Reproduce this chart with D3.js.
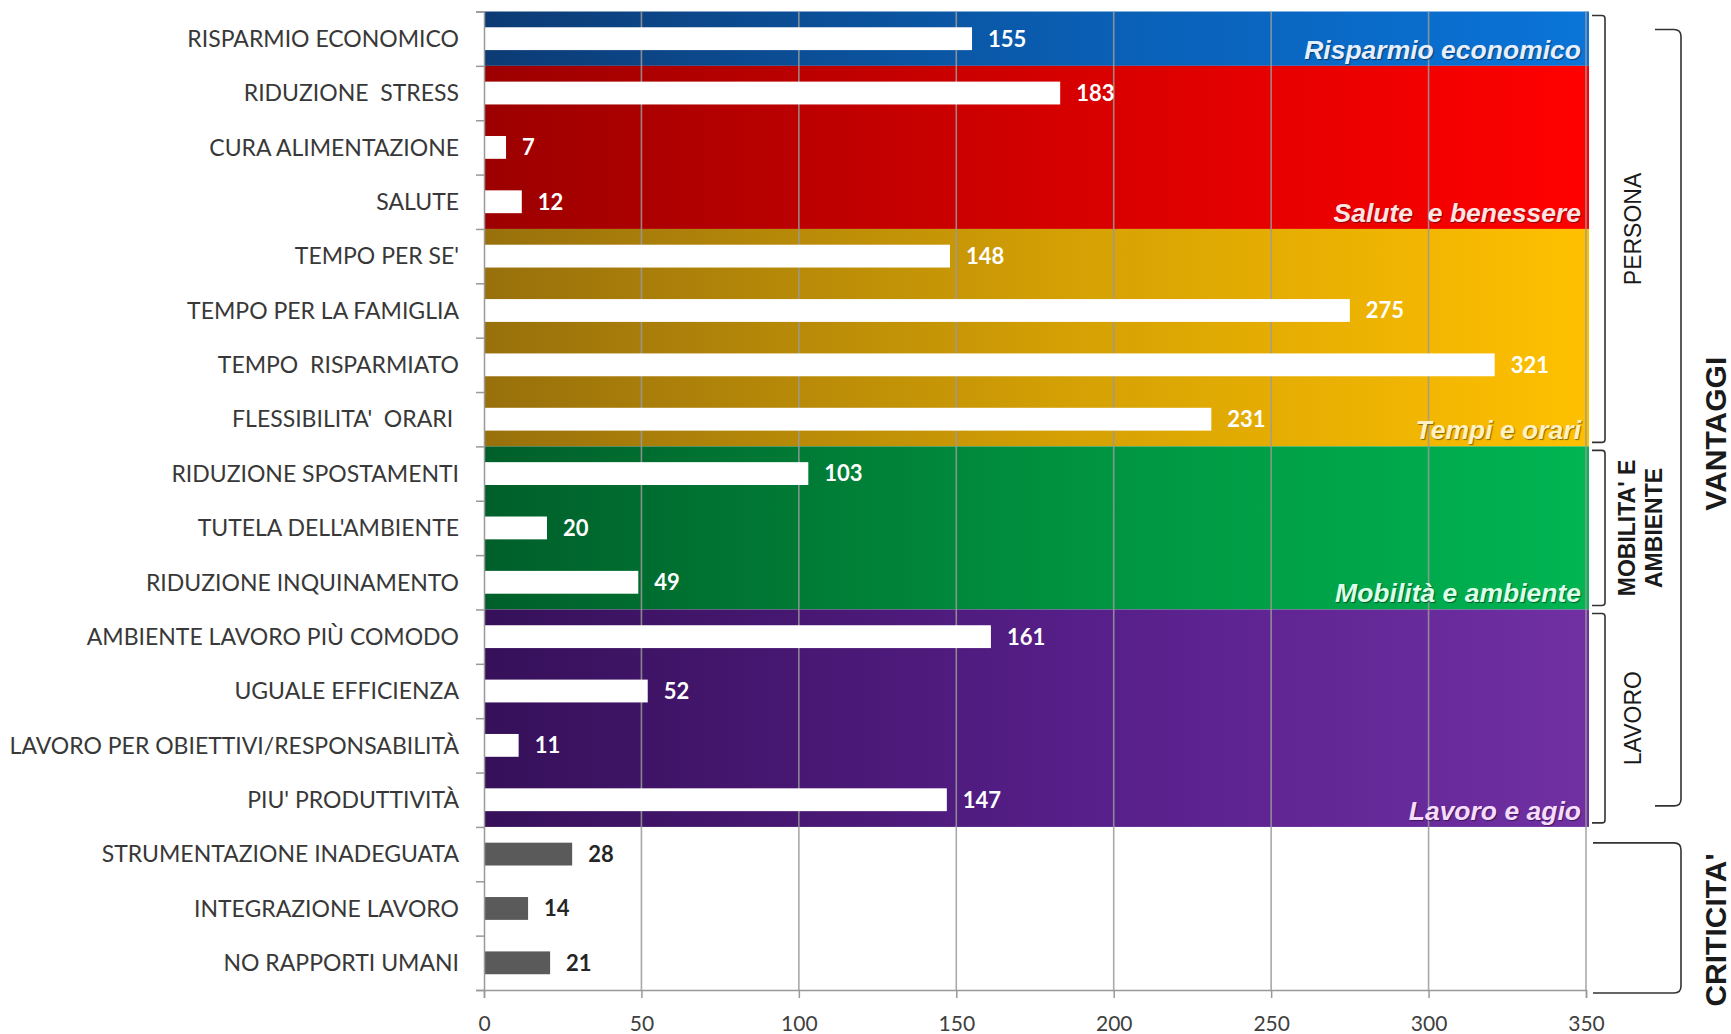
<!DOCTYPE html>
<html>
<head>
<meta charset="utf-8">
<script src="https://cdn.jsdelivr.net/npm/d3@7"></script>
<style>
  body { margin: 0; background: #fff; }
  svg { display: block; }
  text { white-space: pre; }
  .cat-label { font-family: Lato, "Open Sans", sans-serif; font-size: 23px; fill: #383838; }
  .val-label { font-family: Lato, "Open Sans", sans-serif; font-size: 22px; font-weight: bold; }
  .band-label { font-family: "Liberation Sans", Arial, sans-serif; font-size: 26.5px; font-weight: bold; font-style: italic;
                text-shadow: 1px 1px 1px rgba(0,0,0,0.45); }
  .side-label { font-family: "Liberation Sans", Arial, sans-serif; fill: #1a1a1a; }
  .x.axis text { font-family: Lato, "Open Sans", sans-serif; font-size: 21px; fill: #404040; }
</style>
</head>
<body>
<svg id="chart"></svg>
<script>
// categories, top to bottom
var categories = [
  "RISPARMIO ECONOMICO",
  "RIDUZIONE  STRESS",
  "CURA ALIMENTAZIONE",
  "SALUTE",
  "TEMPO PER SE'",
  "TEMPO PER LA FAMIGLIA",
  "TEMPO  RISPARMIATO",
  "FLESSIBILITA'  ORARI ",
  "RIDUZIONE SPOSTAMENTI",
  "TUTELA DELL'AMBIENTE",
  "RIDUZIONE INQUINAMENTO",
  "AMBIENTE LAVORO PIÙ COMODO",
  "UGUALE EFFICIENZA",
  "LAVORO PER OBIETTIVI/RESPONSABILITÀ",
  "PIU' PRODUTTIVITÀ",
  "STRUMENTAZIONE INADEGUATA",
  "INTEGRAZIONE LAVORO",
  "NO RAPPORTI UMANI"
];
var values = [155, 183, 7, 12, 148, 275, 321, 231, 103, 20, 49, 161, 52, 11, 147, 28, 14, 21];
var xTicks = [0, 50, 100, 150, 200, 250, 300, 350];

// coloured groups (first and last row index)
var groupNames = ["Risparmio economico", "Salute  e benessere", "Tempi e orari", "Mobilità e ambiente", "Lavoro e agio"];
var groupFirst = [0, 1, 4, 8, 11];
var groupLast = [0, 3, 7, 10, 14];

// brackets on the right
var sideNames = [["PERSONA"], ["MOBILITA' E", "AMBIENTE"], ["LAVORO"]];
var sideFirst = [0, 8, 11];
var sideLast = [7, 10, 14];
var outerNames = ["VANTAGGI", "CRITICITA'"];
var outerFirst = [0, 15];
var outerLast = [14, 17];

// colours for each group: dark on the left, bright on the right
var groupColors = [
  ["#0c3b74", "#0a5fb4", "#0a74d8"],
  ["#9c0000", "#d80000", "#ff0000"],
  ["#98700c", "#d6a204", "#ffc000"],
  ["#005f2a", "#009440", "#00b552"],
  ["#361059", "#571f8a", "#7030a2"]
];
var groupTextColors = ["#e6efff", "#ffe4e4", "#fff1c2", "#dcffe8", "#f6dcff"];

var width = 1731;
var height = 1034;
var plotTop = 11.5;
var plotBottom = 990;

var svg = d3.select("#chart").attr("width", width).attr("height", height);

var x = d3.scaleLinear().domain([0, 350]).range([484, 1586]);
var y = d3.scaleBand()
  .domain(categories)
  .range([plotTop, plotBottom])
  .paddingInner(0.58)
  .paddingOuter(0.29);

// row index -> pixel position of the row boundary
var row = d3.scaleLinear().domain([0, categories.length]).range([plotTop, plotBottom]);

// gradients
var defs = svg.append("defs");
groupColors.forEach(function (c, i) {
  var grad = defs.append("linearGradient")
    .attr("id", "grad" + i)
    .attr("gradientUnits", "userSpaceOnUse")
    .attr("x1", x(0)).attr("x2", x(350))
    .attr("y1", 0).attr("y2", 0);
  grad.append("stop").attr("offset", "0%").attr("stop-color", c[0]);
  grad.append("stop").attr("offset", "55%").attr("stop-color", c[1]);
  grad.append("stop").attr("offset", "100%").attr("stop-color", c[2]);
});

// coloured background bands
svg.append("g")
  .selectAll("rect")
  .data(groupNames)
  .enter()
  .append("rect")
  .attr("x", x(0))
  .attr("y", (d, i) => row(groupFirst[i]))
  .attr("width", x(350) - x(0) + 3)
  .attr("height", (d, i) => row(groupLast[i] + 1) - row(groupFirst[i]))
  .attr("fill", (d, i) => "url(#grad" + i + ")");

// vertical gridlines
svg.append("g")
  .selectAll("line")
  .data(xTicks.slice(1))
  .enter()
  .append("line")
  .attr("x1", (d) => x(d))
  .attr("x2", (d) => x(d))
  .attr("y1", plotTop)
  .attr("y2", plotBottom)
  .attr("stroke", "#9a9a9a")
  .attr("stroke-opacity", 0.85)
  .attr("stroke-width", 1.6);

// bars
svg.append("g")
  .selectAll("rect")
  .data(values)
  .enter()
  .append("rect")
  .attr("x", x(0))
  .attr("y", (d, i) => y(categories[i]))
  .attr("width", (d) => x(d) - x(0))
  .attr("height", y.bandwidth())
  .attr("fill", (d, i) => (i < 15 ? "#ffffff" : "#5a5a5a"));

// value labels
svg.append("g")
  .selectAll("text")
  .data(values)
  .enter()
  .append("text")
  .attr("class", "val-label")
  .attr("x", (d) => x(d) + 16)
  .attr("y", (d, i) => y(categories[i]) + y.bandwidth() / 2)
  .attr("dy", "0.36em")
  .attr("fill", (d, i) => (i < 15 ? "#ffffff" : "#262626"))
  .text((d) => d);

// group names inside the bands
svg.append("g")
  .selectAll("text")
  .data(groupNames)
  .enter()
  .append("text")
  .attr("class", "band-label")
  .attr("x", x(350) - 5)
  .attr("y", (d, i) => row(groupLast[i] + 1) - 7)
  .attr("text-anchor", "end")
  .attr("fill", (d, i) => groupTextColors[i])
  .text((d) => d);

// left axis: line + small ticks at row boundaries
var leftAxis = d3.axisLeft(row)
  .tickValues(d3.range(categories.length + 1))
  .tickSize(8)
  .tickFormat("");
svg.append("g")
  .attr("class", "y axis")
  .attr("transform", "translate(" + x(0) + ",0)")
  .call(leftAxis)
  .call((g) => g.selectAll("line,path").attr("stroke", "#999").attr("stroke-width", 1.5));

// category labels
svg.append("g")
  .selectAll("text")
  .data(categories)
  .enter()
  .append("text")
  .attr("class", "cat-label")
  .attr("x", 459)
  .attr("y", (d) => y(d) + y.bandwidth() / 2)
  .attr("dy", "0.36em")
  .attr("text-anchor", "end")
  .text((d) => d);

// bottom axis
var xAxis = d3.axisBottom(x).tickValues(xTicks).tickSize(8).tickPadding(18);
svg.append("g")
  .attr("class", "x axis")
  .attr("transform", "translate(0," + plotBottom + ")")
  .call(xAxis)
  .call((g) => g.selectAll("line,path").attr("stroke", "#999").attr("stroke-width", 1.5));

// brackets
function bracket(xHook, xLine, top, bottom, r) {
  var p = d3.path();
  p.moveTo(xHook, top);
  p.lineTo(xLine - r, top);
  p.quadraticCurveTo(xLine, top, xLine, top + r);
  p.lineTo(xLine, bottom - r);
  p.quadraticCurveTo(xLine, bottom, xLine - r, bottom);
  p.lineTo(xHook, bottom);
  return p.toString();
}

var sideG = svg.append("g");
sideNames.forEach(function (names, i) {
  var top = row(sideFirst[i]) + 4;
  var bottom = row(sideLast[i] + 1) - 4;
  sideG.append("path")
    .attr("d", bracket(1592, 1605, top, bottom, 3))
    .attr("fill", "none")
    .attr("stroke", "#333")
    .attr("stroke-width", 1.6);
  var cy = (top + bottom) / 2;
  names.forEach(function (n, k) {
    var cx = (names.length > 1 ? 1627 : 1633) + k * 27;
    sideG.append("text")
      .attr("class", "side-label")
      .attr("transform", "translate(" + cx + "," + cy + ") rotate(-90)")
      .attr("text-anchor", "middle")
      .attr("dy", "0.36em")
      .style("font-size", "23px")
      .style("font-weight", names.length > 1 ? "bold" : "normal")
      .text(n);
  });
});

// outer brackets: VANTAGGI and CRITICITA'
var outerG = svg.append("g");
outerNames.forEach(function (n, i) {
  var top, bottom, xHook;
  if (i == 0) {
    top = row(outerFirst[i]) + 18;
    bottom = row(outerLast[i] + 1) - 21;
    xHook = 1655;
  } else {
    top = row(outerFirst[i]) + 16;
    bottom = row(outerLast[i] + 1) + 3;
    xHook = 1593;
  }
  outerG.append("path")
    .attr("d", bracket(xHook, 1681, top, bottom, 7))
    .attr("fill", "none")
    .attr("stroke", "#333")
    .attr("stroke-width", 1.6);
  outerG.append("text")
    .attr("class", "side-label")
    .attr("transform", "translate(" + 1715 + "," + ((top + bottom) / 2 + (i == 0 ? 16 : 12)) + ") rotate(-90)")
    .attr("text-anchor", "middle")
    .attr("dy", "0.36em")
    .style("font-size", "30px")
    .style("font-weight", "bold")
    .text(n);
});
</script>
</body>
</html>
